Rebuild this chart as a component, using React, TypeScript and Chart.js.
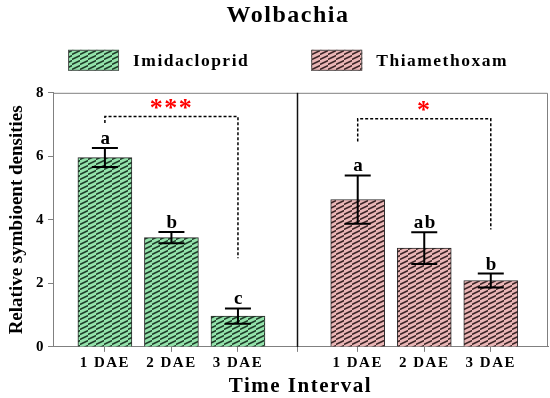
import React, { useEffect, useRef } from 'react';
import { Chart, registerables } from 'chart.js';

Chart.register(...registerables);

// ---------- data ----------
const categories = ['1 DAE', '2 DAE', '3 DAE'];
const seriesNames = ['Imidacloprid', 'Thiamethoxam'];
const imidaPositions = [1, 2, 3];
const thiaPositions = [4.8, 5.8, 6.8];
const dividerPosition = 3.89;
const imidaMeans = [5.96, 3.44, 0.97];
const imidaErrors = [0.3, 0.18, 0.24];
const imidaLetters = ['a', 'b', 'c'];
const thiaMeans = [4.64, 3.11, 2.09];
const thiaErrors = [0.76, 0.5, 0.22];
const thiaLetters = ['a', 'ab', 'b'];
const yTickStep = 2;
const yMin = 0;
const yMax = 8;
const bracketTop = [7.25, 7.18];
const bracketLeftEnd = [7.05, 6.47];
const bracketRightEnd = [2.79, 3.7];
const bracketLabels = ['***', '*'];

const SERIF = '"Liberation Serif", "Times New Roman", serif';

function makePattern(ctx: CanvasRenderingContext2D, base: string, dark: string) {
  const tile = document.createElement('canvas');
  tile.width = 8;
  tile.height = 5;
  const g = tile.getContext('2d')!;
  g.fillStyle = base;
  g.fillRect(0, 0, 8, 5);
  g.strokeStyle = dark;
  g.lineWidth = 1.7;
  g.beginPath();
  g.moveTo(-0.5, 4.6);
  g.lineTo(8.5, 0.4);
  g.stroke();
  return ctx.createPattern(tile, 'repeat')!;
}

export default function App() {
  const ref = useRef<HTMLCanvasElement | null>(null);

  useEffect(() => {
    document.body.style.margin = '0';
    const canvas = ref.current!;
    const ctx0 = canvas.getContext('2d')!;
    const greenPat = makePattern(ctx0, '#93e2ab', '#1f3d29');
    const pinkPat = makePattern(ctx0, '#eab6b6', '#3d2627');

    const groups = [
      { pos: imidaPositions, means: imidaMeans, errs: imidaErrors, letters: imidaLetters },
      { pos: thiaPositions, means: thiaMeans, errs: thiaErrors, letters: thiaLetters },
    ];
    const patterns = [greenPat, pinkPat];

    const spacing = (c: Chart) => {
      (c.ctx as any).letterSpacing = '1.5px';
    };

    const annot = {
      id: 'annot',
      beforeUpdate: spacing,
      beforeLayout: spacing,
      beforeDraw: spacing,
      afterDatasetsDraw(chart: Chart) {
        const ctx = chart.ctx;
        const xs = chart.scales.x;
        const ys = chart.scales.y;
        const ca = chart.chartArea;
        ctx.save();
        // frame
        ctx.strokeStyle = '#808080';
        ctx.lineWidth = 1;
        ctx.beginPath();
        ctx.moveTo(ca.left, ca.top + 0.5);
        ctx.lineTo(ca.right - 0.5, ca.top + 0.5);
        ctx.lineTo(ca.right - 0.5, ca.bottom);
        ctx.stroke();
        // divider
        const dx = Math.round(xs.getPixelForValue(dividerPosition)) + 0.5;
        ctx.strokeStyle = '#111';
        ctx.lineWidth = 1.5;
        ctx.beginPath();
        ctx.moveTo(dx, ca.top);
        ctx.lineTo(dx, ca.bottom);
        ctx.stroke();
        // error bars + letters
        groups.forEach((g) => {
          g.pos.forEach((p, i) => {
            const x = xs.getPixelForValue(p);
            const yt = ys.getPixelForValue(g.means[i] + g.errs[i]);
            const yb = ys.getPixelForValue(g.means[i] - g.errs[i]);
            ctx.strokeStyle = '#000';
            ctx.lineWidth = 2;
            ctx.beginPath();
            ctx.moveTo(x, yt);
            ctx.lineTo(x, yb);
            ctx.moveTo(x - 13, yt);
            ctx.lineTo(x + 13, yt);
            ctx.moveTo(x - 13, yb);
            ctx.lineTo(x + 13, yb);
            ctx.stroke();
            ctx.fillStyle = '#000';
            ctx.font = `bold 19px ${SERIF}`;
            ctx.textAlign = 'center';
            ctx.textBaseline = 'alphabetic';
            ctx.fillText(g.letters[i], x + 1, yt - 4);
          });
        });
        // brackets
        groups.forEach((g, k) => {
          const xl = xs.getPixelForValue(g.pos[0]);
          const xr = xs.getPixelForValue(g.pos[g.pos.length - 1]);
          const yt = ys.getPixelForValue(bracketTop[k]);
          ctx.setLineDash([3, 2]);
          ctx.strokeStyle = '#000';
          ctx.lineWidth = 1.5;
          ctx.beginPath();
          ctx.moveTo(xl, ys.getPixelForValue(bracketLeftEnd[k]));
          ctx.lineTo(xl, yt);
          ctx.lineTo(xr, yt);
          ctx.lineTo(xr, ys.getPixelForValue(bracketRightEnd[k]));
          ctx.stroke();
          ctx.setLineDash([]);
          ctx.fillStyle = '#ff0000';
          ctx.font = `bold 26px ${SERIF}`;
          ctx.textAlign = 'center';
          ctx.textBaseline = 'alphabetic';
          ctx.fillText(bracketLabels[k], (xl + xr) / 2, yt - 1);
        });
        ctx.restore();
      },
      afterDraw(chart: Chart) {
        const ctx = chart.ctx;
        const ca = chart.chartArea;
        ctx.save();
        // legend
        ctx.font = `bold 17.5px ${SERIF}`;
        (ctx as any).letterSpacing = '1.5px';
        const boxW = 51;
        const boxH = 21;
        const gapText = 14;
        const gapItem = 62;
        const widths = seriesNames.map((n) => ctx.measureText(n).width);
        const total = widths.reduce((a, w) => a + boxW + gapText + w, 0) + gapItem;
        let x = 288 - total / 2;
        const yb = ca.top - 43;
        seriesNames.forEach((n, i) => {
          ctx.fillStyle = patterns[i];
          ctx.fillRect(x, yb, boxW, boxH);
          ctx.strokeStyle = '#555';
          ctx.lineWidth = 1;
          ctx.strokeRect(x + 0.5, yb + 0.5, boxW - 1, boxH - 1);
          ctx.fillStyle = '#000';
          ctx.textAlign = 'left';
          ctx.textBaseline = 'middle';
          ctx.fillText(n, x + boxW + gapText, yb + boxH / 2 + 1);
          x += boxW + gapText + widths[i] + gapItem;
        });
        // y title
        (ctx as any).letterSpacing = '0px';
        ctx.translate(17, (ca.top + ca.bottom) / 2);
        ctx.rotate(-Math.PI / 2);
        ctx.font = `bold 19px ${SERIF}`;
        ctx.textAlign = 'center';
        ctx.textBaseline = 'middle';
        ctx.fillStyle = '#000';
        ctx.fillText('Relative symbioent densities', 0, 0);
        ctx.restore();
      },
    };

    const tickValues = [...imidaPositions, dividerPosition, ...thiaPositions];
    const labelFor = (v: number) => {
      let i = imidaPositions.findIndex((p) => Math.abs(p - v) < 1e-6);
      if (i >= 0) return categories[i];
      i = thiaPositions.findIndex((p) => Math.abs(p - v) < 1e-6);
      if (i >= 0) return categories[i];
      return '';
    };

    const chart = new Chart(canvas, {
      type: 'bar',
      data: {
        datasets: groups.map((g, k) => ({
          label: seriesNames[k],
          data: g.pos.map((p, i) => ({ x: p, y: g.means[i] })),
          backgroundColor: patterns[k],
          borderColor: '#2b2b2b',
          borderWidth: 1,
          grouped: false,
          barThickness: 54,
        })) as any,
      },
      options: {
        responsive: false,
        animation: false,
        devicePixelRatio: 1,
        layout: { padding: { left: 28, right: 2, top: 0, bottom: 0 } },
        plugins: {
          legend: { display: false },
          tooltip: { enabled: false },
          title: {
            display: true,
            text: 'Wolbachia',
            color: '#000',
            font: { family: SERIF, size: 24, weight: 'bold' },
            padding: { top: 1, bottom: 63 },
          },
        },
        scales: {
          x: {
            type: 'linear',
            min: 0.22,
            max: 7.66,
            offset: false,
            afterBuildTicks: (s: any) => {
              s.ticks = tickValues.map((v) => ({ value: v }));
            },
            grid: { display: true, drawOnChartArea: false, drawTicks: true, tickLength: 5, color: '#808080', offset: false },
            border: { display: true, color: '#808080', width: 1 },
            ticks: {
              autoSkip: false,
              maxRotation: 0,
              padding: 2,
              color: '#000',
              font: { family: SERIF, size: 15, weight: 'bold' },
              callback: (v: any) => labelFor(Number(v)),
            },
            title: {
              display: true,
              text: 'Time Interval',
              color: '#000',
              font: { family: SERIF, size: 21, weight: 'bold', lineHeight: 1.1 },
              padding: { top: 1, bottom: 0 },
            },
          },
          y: {
            min: yMin,
            max: yMax,
            afterFit: (s: any) => {
              s.width = 25;
            },
            ticks: {
              stepSize: yTickStep,
              padding: 3,
              color: '#000',
              font: { family: SERIF, size: 15, weight: 'bold' },
            },
            grid: { display: true, drawOnChartArea: false, drawTicks: true, tickLength: 5, color: '#808080' },
            border: { display: true, color: '#808080', width: 1 },
          },
        },
      } as any,
      plugins: [annot as any],
    });
    return () => chart.destroy();
  }, []);

  return (
    <div style={{ width: 550, height: 398 }}>
      <canvas ref={ref} width={550} height={398} style={{ display: 'block', width: 550, height: 398 }} />
    </div>
  );
}
